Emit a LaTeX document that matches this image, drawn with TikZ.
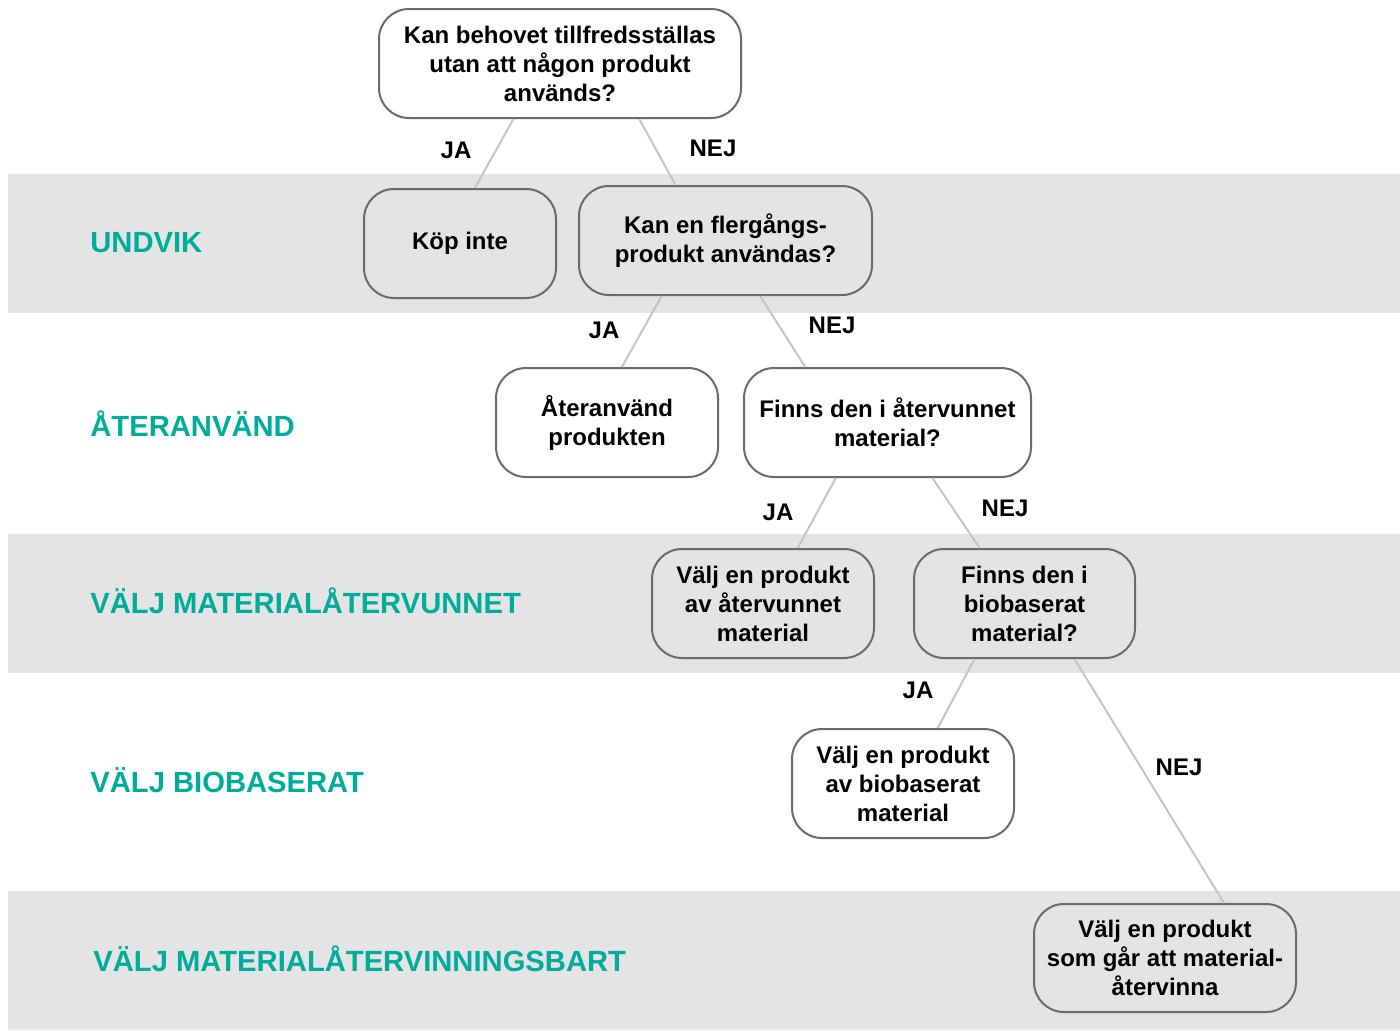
\documentclass[tikz,border=0pt]{standalone}
\usepackage{fontspec}
\setmainfont{Liberation Sans}
\usetikzlibrary{positioning,calc}
\definecolor{bandgray}{HTML}{E4E4E4}
\definecolor{boxgray}{HTML}{6B6B6B}
\definecolor{linegray}{HTML}{C4C4C4}
\definecolor{stegteal}{HTML}{00AC9A}

\begin{document}
\begin{tikzpicture}
  [x=0.5pt,y=-0.5pt,
   question/.style={
    rectangle,
    draw=boxgray,
    line width=1pt,
    rounded corners=15pt,
    align=center,
    font=\bfseries\fontsize{12}{14.5}\selectfont,
    minimum height=54.5pt,
    inner sep=2pt
    },
   answer/.style={font=\bfseries\fontsize{12}{14}\selectfont},
   level/.style={anchor=west, inner sep=0pt, text=stegteal, font=\bfseries\fontsize{14.6}{17}\selectfont},
   branch/.style={draw=linegray, line width=1pt}
  ]
  \useasboundingbox (0,0) rectangle (1400,1030);

  % BANDS
  \fill[bandgray] (8,174) rectangle (1400,313);
  \fill[bandgray] (8,534) rectangle (1400,673);
  \fill[bandgray] (8,891) rectangle (1400,1030);

  \node[level] (undvik) at (90,243) {UNDVIK};
  \node[level] (ateranvand) at (90,424) {ÅTERANVÄND};
  \node[level] (materialtitle) at (90,601) {VÄLJ MATERIALÅTERVUNNET};
  \node[level] (biotitle) at (90,780) {VÄLJ BIOBASERAT};
  \node[level] (atervinntitle) at (93,959) {VÄLJ MATERIALÅTERVINNINGSBART};

  % QUESTIONS
  \node[question, minimum width=181pt] (behov) at (560,63.5)
    {Kan behovet tillfredsställas\\utan att någon produkt\\används?};
  \node[question, minimum width=96pt] (kopinte) at (460,243.5) {Köp inte};
  \node[question, minimum width=146.5pt] (flergang) at (725.5,240.5)
    {Kan en flergångs-\\produkt användas?};
  \node[question, minimum width=111pt] (ateranv) at (607,422.5)
    {Återanvänd\\produkten};
  \node[question, minimum width=143.5pt] (finnsater) at (887.5,422.5)
    {Finns den i återvunnet\\material?};
  \node[question, minimum width=111pt] (valjater) at (763,603.5)
    {Välj en produkt\\av återvunnet\\material};
  \node[question, minimum width=110.5pt] (finnsbio) at (1024.5,603.5)
    {Finns den i\\biobaserat\\material?};
  \node[question, minimum width=111pt] (valjbio) at (903,783.5)
    {Välj en produkt\\av biobaserat\\material};
  \node[question, minimum width=131pt, minimum height=54pt] (valjatervinn) at (1165,958)
    {Välj en produkt\\som går att material-\\återvinna};

  % BRANCHES
  \draw[branch] (behov.230) -- (kopinte.75);
  \draw[branch] (behov.325) -- (flergang.132);
  \draw[branch] (flergang.221) -- (ateranv.75);
  \draw[branch] (flergang.302) -- (finnsater.146);
  \draw[branch] (finnsater.227) -- (valjater.58);
  \draw[branch] (finnsater.309) -- (finnsbio.129);
  \draw[branch] (finnsbio.228) -- (valjbio.58);
  \draw[branch] (finnsbio.312) -- (valjatervinn.43.5);

  \node[answer] (ja1) at (456,150) {JA};
  \node[answer] (nej1) at (713,148) {NEJ};
  \node[answer] (ja2) at (604,330) {JA};
  \node[answer] (nej2) at (832,325) {NEJ};
  \node[answer] (ja3) at (778,512) {JA};
  \node[answer] (nej3) at (1005,508) {NEJ};
  \node[answer] (ja4) at (918,690) {JA};
  \node[answer] (nej4) at (1179,767) {NEJ};
\end{tikzpicture}
\end{document}
